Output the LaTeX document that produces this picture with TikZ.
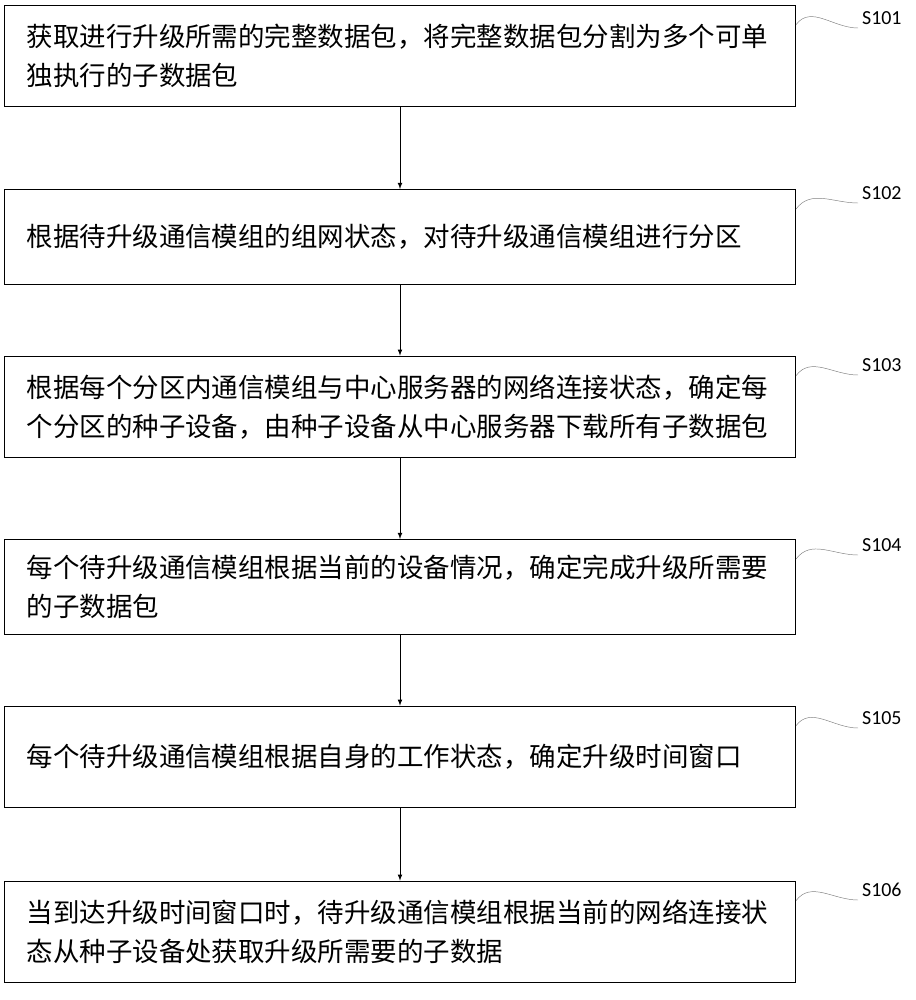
\documentclass[tikz,border=0pt]{standalone}
\usepackage{fontspec}
\setmainfont{Carlito}
\newfontfamily\cjk{Noto Sans CJK SC}
\begin{document}
\begin{tikzpicture}[x=0.03cm, y=-0.03cm,
StepBox/.style={draw, thick, minimum width=23.73cm, minimum height=3.05cm, text width=22.4cm, align=left, font=\cjk\fontsize{22.6}{33}\selectfont},
StepTag/.style={font=\fontsize{17}{17}\selectfont, anchor=west},
TagLine/.style={gray, thin}]

\useasboundingbox (0,0) rectangle (915,1000);

\node[StepBox] (s1) at (400,56) {获取进行升级所需的完整数据包，将完整数据包分割为多个可单\\独执行的子数据包};
\node[StepBox, minimum height=2.85cm] (s2) at (400,237) {根据待升级通信模组的组网状态，对待升级通信模组进行分区};
\node[StepBox] (s3) at (400,407) {根据每个分区内通信模组与中心服务器的网络连接状态，确定每\\个分区的种子设备，由种子设备从中心服务器下载所有子数据包};
\node[StepBox, minimum height=2.85cm] (s4) at (400,587) {每个待升级通信模组根据当前的设备情况，确定完成升级所需要\\的子数据包};
\node[StepBox] (s5) at (400,757) {每个待升级通信模组根据自身的工作状态，确定升级时间窗口};
\node[StepBox] (s6) at (400,932) {当到达升级时间窗口时，待升级通信模组根据当前的网络连接状\\态从种子设备处获取升级所需要的子数据};

% step tags
\node[StepTag] (t1) at (858,18) {S101};
\node[StepTag] (t2) at (858,193) {S102};
\node[StepTag] (t3) at (858,365) {S103};
\node[StepTag] (t4) at (858,545) {S104};
\node[StepTag] (t5) at (858,718) {S105};
\node[StepTag] (t6) at (858,890) {S106};

\foreach \i in {1,...,6} {
  \draw[TagLine] ([yshift=-0.6cm]s\i.north east) .. controls +(15,-20) and +(-25,0) .. ([yshift=-0.3cm]t\i.west);
}

\foreach \a/\b in {s1/s2,s2/s3,s3/s4,s4/s5,s5/s6}
  \draw[->, thick, >=latex] (\a.south) -- (\b.north);

\end{tikzpicture}
\end{document}
